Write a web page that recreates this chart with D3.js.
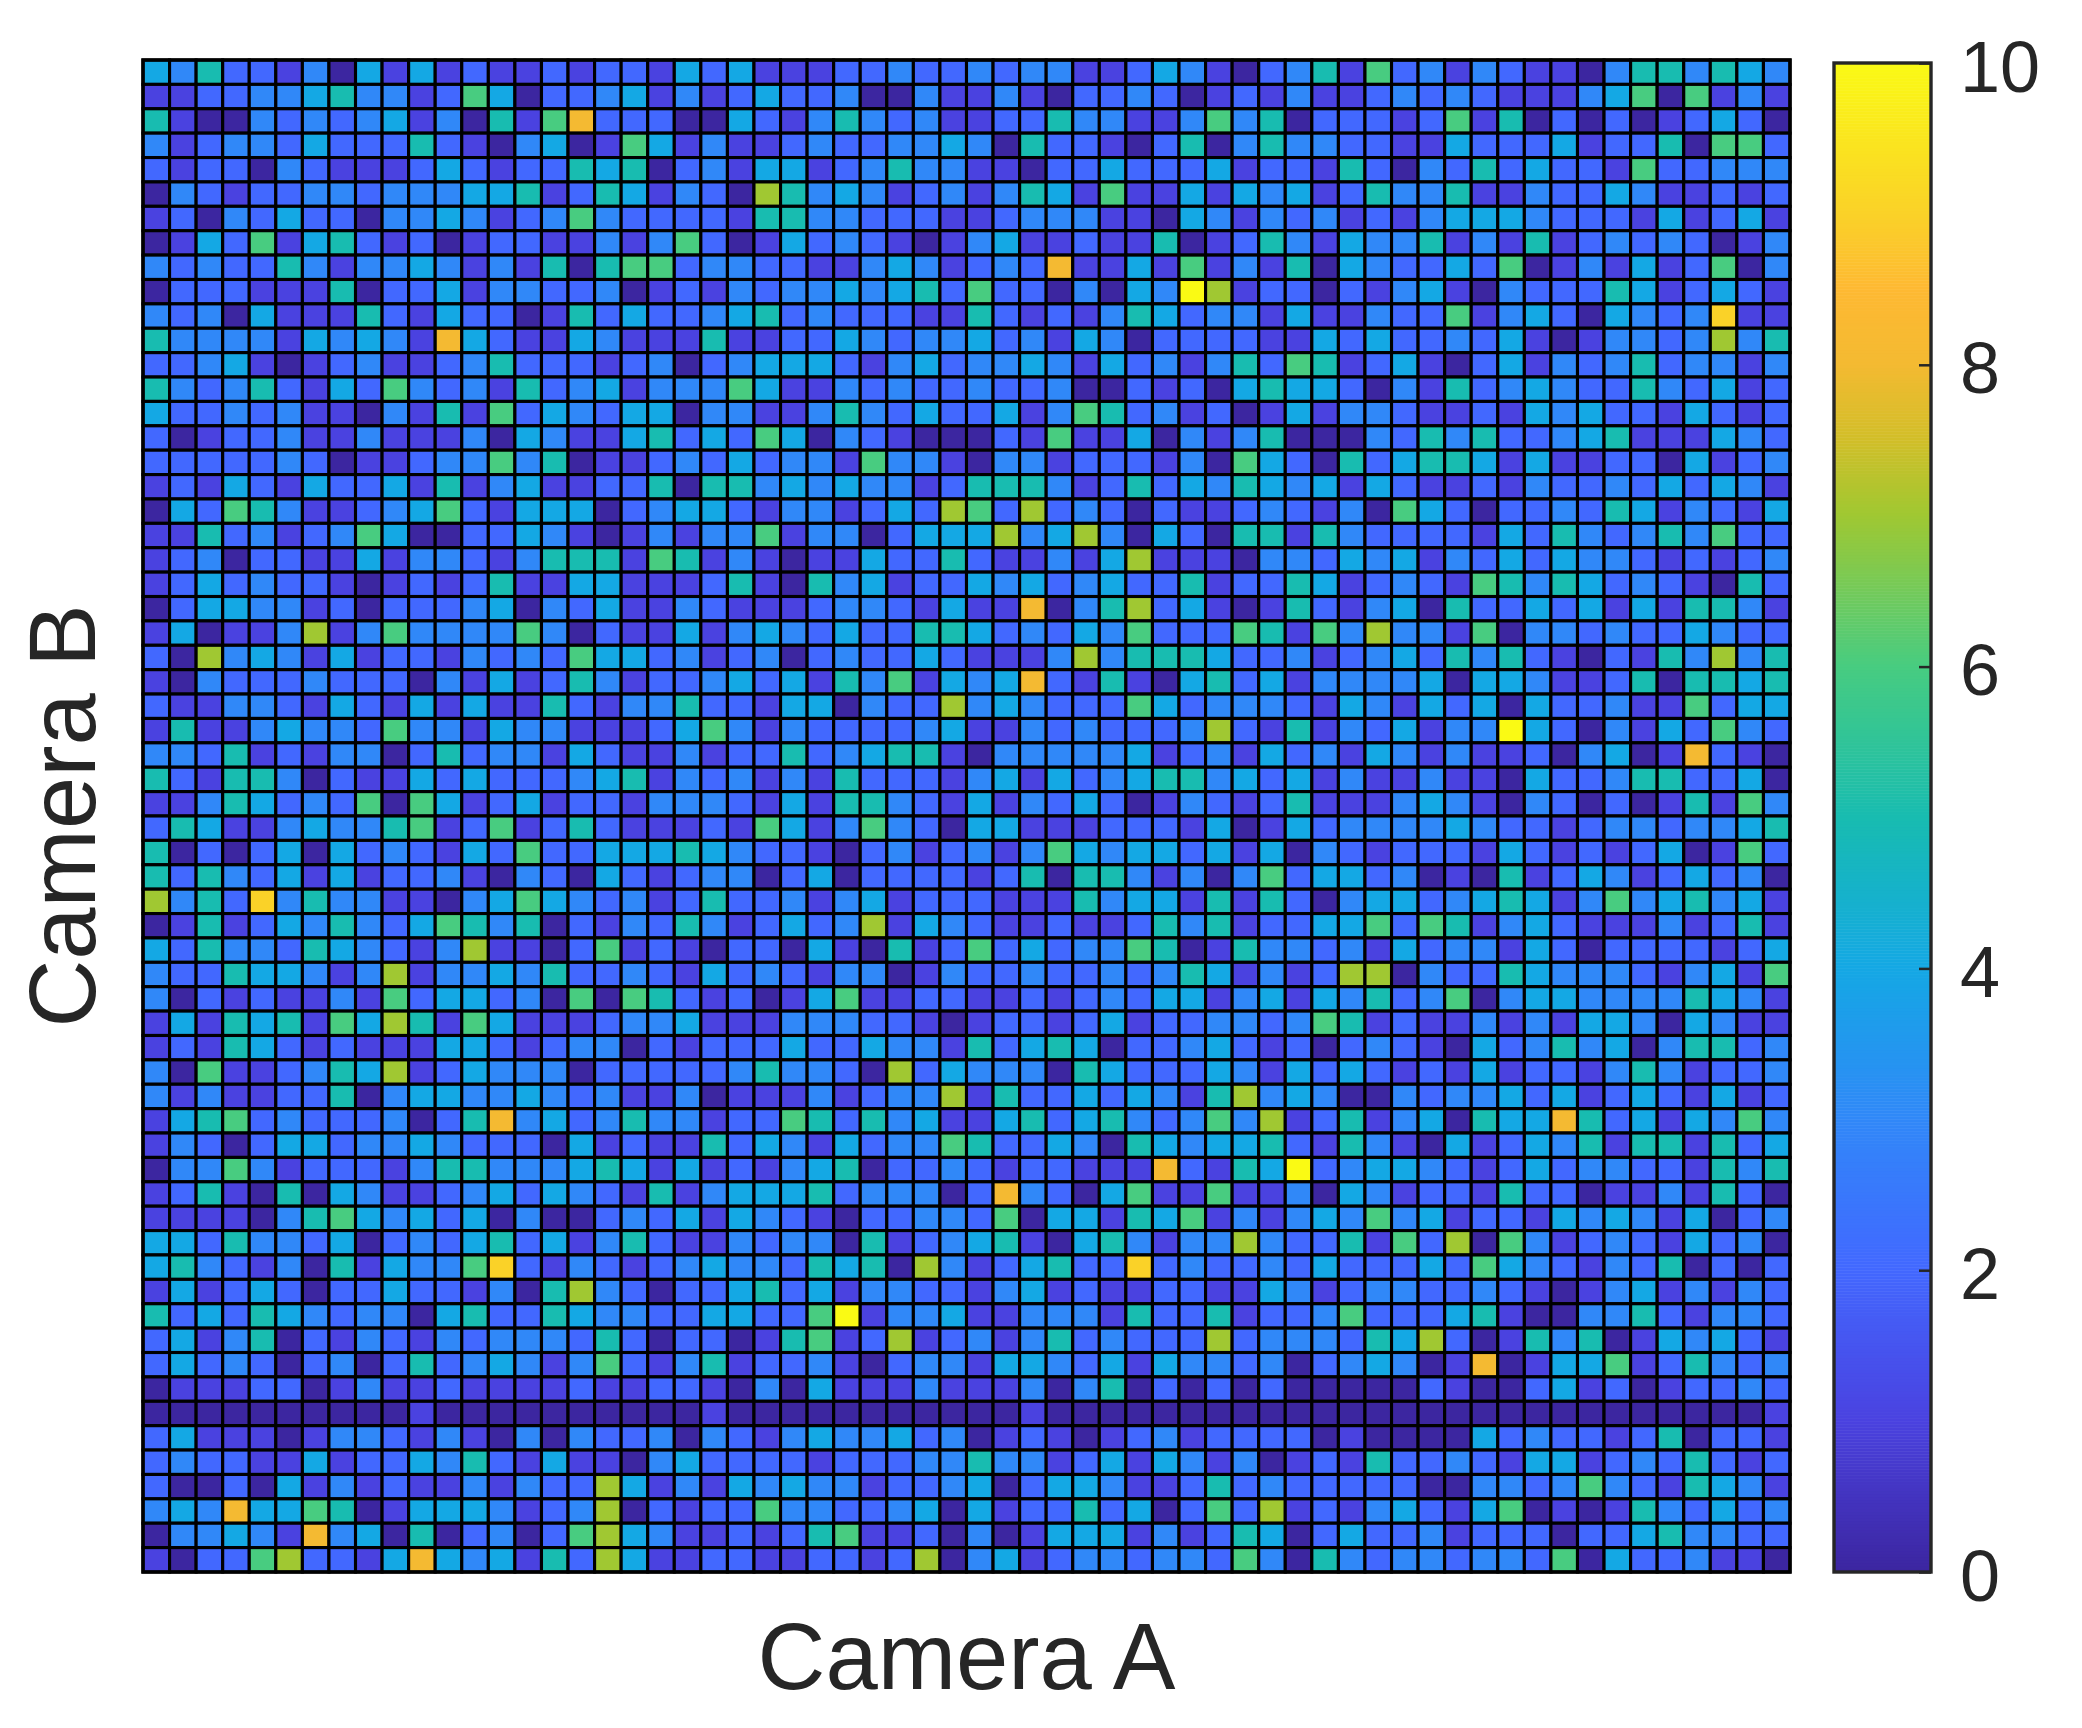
<!DOCTYPE html>
<html>
<head>
<meta charset="utf-8">
<script src="https://cdn.jsdelivr.net/npm/d3@7"></script>
<style>html,body{margin:0;padding:0;background:#fff}svg{display:block}</style>
</head>
<body>
<svg id="chart" width="2082" height="1728"></svg>
<script>
const xLabel = "Camera A";
const yLabel = "Camera B";
const colorbarTicks = [0, 2, 4, 6, 8, 10];
const colorDomain = [0, 10];
const colorStops = [0, 1, 2, 3, 4, 5, 6, 7, 7.5, 8, 8.5, 9, 10];
const colorValues = ["#3c26a0", "#4a42e0", "#4268ff", "#3088f8", "#14a8e4", "#18bcb0", "#48cc80", "#a0c832", "#d2be28", "#f4ba32", "#feb932", "#fad228", "#fafa14"];

const row00 = [4,3,5,2,2,1,3,0,4,1,4,1,2,1,1,2,1,2,2,1,4,2, 4,1,1,1,2,2,3,2,2,3,2,3,3,1,1,2,4,3,1,0,2, 3,5,1,6,2,3,1,3,2,1,1,0,3,5,5,3,5,4,3];
const row01 = [1,1,2,2,3,3,4,5,3,3,1,2,6,4,0,2,2,3,4,1,3,1, 2,4,2,2,3,0,0,3,1,1,3,1,0,2,2,3,2,0,1,2,1, 3,1,1,2,3,2,3,2,1,1,1,3,4,6,0,6,1,3,1];
const row02 = [5,1,0,0,3,2,3,2,3,4,1,3,0,5,1,6,8,2,2,2,0,0, 4,2,1,3,5,3,2,3,1,1,2,2,5,3,3,1,1,3,6,3,5, 0,2,2,2,1,2,6,1,5,0,2,0,2,0,1,2,4,2,0];
const row03 = [3,1,2,3,3,2,4,2,2,2,5,2,1,0,3,4,0,1,6,4,1,3, 1,1,2,3,2,2,3,3,4,3,0,5,2,2,1,0,2,5,0,3,5, 3,3,2,2,1,1,4,2,2,2,4,1,2,2,5,0,6,6,2];
const row04 = [2,1,2,2,0,3,2,1,1,1,2,4,2,1,2,2,5,4,5,0,2,3, 1,4,4,1,2,3,5,3,3,1,1,0,2,2,4,2,2,2,4,1,2, 2,1,5,2,0,3,2,5,2,4,2,2,1,6,2,2,3,3,3];
const row05 = [0,3,2,1,2,2,3,3,2,3,3,3,4,4,5,1,2,5,4,1,3,2, 0,7,5,3,4,3,1,2,3,1,3,5,4,1,6,1,1,4,1,4,3, 4,1,2,5,3,3,5,1,1,3,2,2,4,3,1,1,2,1,2];
const row06 = [1,2,0,3,2,4,2,2,0,3,3,4,3,1,2,3,6,3,2,2,2,2, 1,5,5,3,3,2,2,2,1,1,2,3,3,3,1,1,0,4,3,1,3, 2,3,1,2,1,3,4,4,4,3,2,2,2,1,4,1,2,4,1];
const row07 = [0,1,4,2,6,1,4,5,2,1,2,0,1,2,2,1,1,3,1,3,6,2, 0,1,4,2,3,2,1,0,1,3,4,1,1,2,1,1,5,0,1,2,5, 3,1,4,3,3,5,1,3,1,5,1,2,3,2,3,2,0,1,3];
const row08 = [3,2,3,2,2,5,3,1,3,3,4,3,1,3,1,5,0,5,6,6,2,3, 3,2,2,1,1,3,4,3,1,2,3,2,8,1,1,4,1,6,1,3,1, 5,0,4,3,2,2,4,2,6,0,1,3,1,4,1,2,6,0,3];
const row09 = [0,2,2,2,1,1,1,5,0,2,2,4,1,3,3,2,2,3,0,1,2,1, 3,2,3,3,4,3,4,5,2,6,2,2,0,3,0,4,3,10,7,1,2, 2,0,2,1,3,4,1,0,3,2,2,2,5,4,1,2,4,2,1];
const row10 = [3,2,3,0,4,1,1,1,5,2,1,4,2,2,0,1,5,2,4,2,2,3, 4,5,2,3,2,2,2,1,1,5,2,1,2,1,3,5,4,2,3,3,1, 4,1,1,3,2,2,6,1,3,4,2,0,4,3,2,3,9,1,1];
const row11 = [5,3,3,3,3,1,4,3,4,3,1,8,4,2,1,1,4,3,1,1,1,5, 1,1,2,2,4,3,2,3,3,4,2,3,1,4,3,0,2,2,2,2,1, 1,4,2,4,2,2,3,2,4,1,0,1,3,3,2,3,7,3,5];
const row12 = [2,2,3,4,1,0,1,2,3,1,1,2,3,5,2,2,2,1,2,3,0,2, 3,4,4,4,2,1,3,4,2,3,3,4,3,1,4,2,3,1,3,5,2, 6,5,1,2,4,1,0,2,4,1,3,2,3,5,2,3,3,1,3];
const row13 = [5,3,2,3,5,2,1,4,2,6,3,2,3,1,5,2,3,4,1,3,3,3, 6,4,1,1,3,2,3,2,2,3,2,2,3,0,0,2,1,2,0,4,5, 4,4,2,0,3,1,5,2,3,4,3,2,2,5,3,2,4,1,2];
const row14 = [4,2,2,3,2,3,1,1,0,3,1,5,1,6,2,4,3,2,4,4,0,3, 3,1,1,3,5,3,2,4,2,2,4,1,3,6,5,2,3,1,2,0,1, 4,1,3,3,2,1,1,2,1,4,3,4,2,2,1,4,2,1,2];
const row15 = [2,0,1,2,2,3,1,1,3,1,1,1,3,0,4,3,1,1,4,5,2,4, 2,6,4,0,3,2,1,0,0,0,2,1,6,1,1,4,0,3,1,3,5, 0,0,0,3,2,5,3,5,2,2,3,4,5,1,1,1,4,3,2];
const row16 = [2,2,2,2,2,3,2,0,1,1,2,3,3,6,3,5,0,1,1,2,3,2, 4,2,3,3,1,6,3,3,1,0,3,3,1,2,2,2,1,3,0,6,4, 2,0,5,2,4,5,5,4,1,4,1,1,2,2,0,4,1,2,3];
const row17 = [1,2,1,4,2,1,4,2,2,4,1,5,1,3,4,1,1,2,2,5,0,5, 5,3,4,3,4,3,3,1,2,5,5,5,3,1,2,5,2,4,3,5,4, 3,4,1,4,2,1,1,2,1,3,2,2,3,2,4,2,4,3,1];
const row18 = [0,4,2,6,5,3,1,1,2,3,4,6,2,1,4,4,4,0,2,3,4,4, 2,1,3,3,1,2,4,2,7,6,2,7,2,3,2,0,2,1,1,2,3, 2,1,3,0,6,4,2,0,2,2,3,2,5,4,1,3,2,1,4];
const row19 = [1,1,5,2,3,1,2,3,6,4,0,0,2,2,4,3,1,0,1,3,1,3, 3,6,1,3,3,0,2,4,4,4,7,3,4,7,3,0,4,2,0,5,5, 1,5,3,2,2,2,2,1,4,2,5,3,2,3,5,3,6,2,2];
const row20 = [1,2,3,0,2,2,1,1,4,1,3,3,2,1,3,5,5,5,1,6,5,1, 3,1,0,1,1,4,2,2,5,2,1,1,3,1,4,7,1,1,1,0,3, 3,2,4,3,4,1,3,2,4,2,4,3,3,2,1,2,1,2,3];
const row21 = [1,2,4,2,3,2,2,1,0,1,2,1,2,5,1,1,4,4,1,1,1,2, 5,1,0,5,3,4,1,2,2,4,3,4,2,3,4,2,2,5,1,2,2, 5,4,1,2,3,2,1,6,5,3,5,4,2,3,2,1,0,5,2];
const row22 = [0,2,4,4,3,3,1,2,0,2,2,2,3,4,0,3,2,4,1,1,3,2, 1,1,1,2,3,3,2,1,4,1,1,8,0,3,5,7,2,4,1,0,1, 5,2,1,3,4,0,5,2,2,4,2,4,1,4,1,5,5,3,1];
const row23 = [1,4,0,1,1,3,7,1,3,6,3,3,3,3,6,3,0,2,1,1,4,1, 3,4,3,2,4,2,2,5,5,4,2,3,2,4,3,6,2,2,2,6,5, 1,6,3,7,3,3,1,6,0,3,3,2,3,2,2,4,3,2,2];
const row24 = [2,0,7,3,4,3,1,4,1,2,2,1,3,2,3,2,6,4,4,2,3,1, 2,3,0,2,3,2,2,4,2,1,1,1,3,7,3,5,5,5,4,2,2, 3,1,2,3,4,2,5,3,5,2,1,0,2,1,5,3,7,3,5];
const row25 = [1,0,3,2,2,2,3,2,2,2,0,3,1,4,1,2,5,3,1,2,2,3, 4,2,4,1,5,3,6,1,4,3,4,8,2,1,5,1,0,4,5,2,4, 1,3,3,3,3,4,0,4,4,3,1,1,2,5,0,5,5,4,5];
const row26 = [2,1,1,3,3,2,1,4,2,1,4,1,4,1,1,5,2,1,3,3,5,2, 2,1,4,4,0,3,2,2,7,3,4,3,2,2,2,6,4,2,3,3,3, 2,1,4,3,1,4,2,4,0,4,2,2,3,1,1,6,2,4,4];
const row27 = [1,5,1,1,3,4,3,3,2,6,3,3,1,4,3,3,1,1,1,2,4,6, 3,1,3,2,2,2,2,3,4,1,1,3,2,3,2,2,2,3,7,2,1, 5,1,3,2,4,1,3,3,10,4,2,0,3,1,4,2,6,3,2];
const row28 = [3,3,2,5,1,2,1,3,3,0,2,5,2,3,3,1,4,2,1,1,3,1, 2,2,5,2,3,4,5,5,1,0,3,3,3,3,3,4,1,2,3,1,4, 2,3,1,4,3,1,3,1,1,2,0,3,4,0,1,8,2,1,0];
const row29 = [5,2,1,5,5,3,0,2,1,1,4,2,4,2,2,2,3,4,5,1,3,2, 3,1,3,1,5,2,2,2,1,3,4,1,4,2,3,4,5,5,3,4,2, 4,1,3,1,1,3,1,1,0,4,2,2,3,5,5,2,2,4,0];
const row30 = [1,1,3,5,4,2,3,2,6,0,6,4,1,2,4,1,2,2,1,3,3,3, 2,1,4,1,5,5,3,2,1,4,1,3,2,4,2,0,1,3,2,1,2, 5,1,1,1,3,4,3,1,0,3,2,0,2,0,1,5,1,6,3];
const row31 = [2,5,4,1,1,3,4,3,3,5,6,1,2,6,1,2,5,2,1,1,1,2, 1,6,4,1,3,6,3,2,0,4,4,1,1,1,2,2,2,1,4,0,1, 4,2,3,3,3,3,4,3,2,2,1,2,3,3,2,3,3,4,5];
const row32 = [5,0,2,0,2,4,0,4,2,3,2,1,4,2,6,2,2,4,4,4,5,4, 3,2,2,1,0,2,3,1,2,3,1,3,6,4,3,4,4,2,4,1,4, 0,3,2,1,2,2,2,1,4,2,1,2,1,2,4,0,1,6,2];
const row33 = [5,2,5,3,2,4,1,4,1,2,2,3,1,0,3,2,0,4,2,1,2,3, 3,0,2,4,0,2,2,2,2,1,2,5,0,5,5,3,1,3,0,3,6, 2,4,4,2,3,0,1,0,5,1,2,4,3,1,2,4,2,3,0];
const row34 = [7,3,5,2,9,3,5,3,3,1,1,0,3,4,6,4,3,2,3,1,2,5, 2,2,3,1,3,4,1,2,2,2,1,1,1,5,3,4,4,1,5,1,5, 2,0,3,4,4,2,3,4,5,4,1,3,6,3,4,5,3,4,1];
const row35 = [0,1,5,1,2,4,3,5,3,2,4,6,5,3,5,0,2,1,3,2,5,3, 1,2,4,2,3,7,1,4,3,2,1,1,2,1,1,2,5,3,5,1,2, 2,4,4,6,2,6,5,1,3,4,2,1,1,1,3,1,2,5,1];
const row36 = [4,2,5,3,3,2,5,4,3,2,1,3,7,1,1,0,2,6,1,2,1,0, 2,2,0,4,1,0,5,1,2,6,2,4,2,3,3,6,5,0,1,5,3, 3,2,3,1,4,2,3,3,1,4,2,0,2,2,2,2,1,2,4];
const row37 = [3,2,2,5,4,4,3,1,3,7,1,3,3,4,3,5,2,2,3,2,1,4, 2,3,2,1,3,3,0,1,3,2,2,3,2,2,3,2,3,5,4,1,3, 1,2,7,7,0,3,2,2,5,4,3,3,3,2,1,3,4,1,6];
const row38 = [3,0,2,1,2,1,1,3,1,6,2,4,4,2,3,0,6,0,6,5,2,1, 2,0,1,4,6,1,1,2,2,1,1,2,1,2,3,2,4,4,1,3,4, 1,4,3,5,2,3,6,0,3,4,4,3,3,3,3,5,4,3,1];
const row39 = [1,4,1,5,4,5,1,6,4,7,5,1,6,4,1,1,1,2,3,3,4,1, 1,1,3,3,3,2,2,1,0,1,2,2,1,2,4,1,2,2,3,3,2, 3,6,5,1,2,1,1,3,1,3,1,4,4,3,0,4,3,1,1];
const row40 = [1,2,1,5,4,2,1,2,1,1,1,4,4,2,1,2,3,3,0,2,1,2, 2,2,4,2,2,4,3,3,1,5,2,4,5,4,0,2,2,3,4,2,1, 2,0,2,3,2,1,0,4,2,3,5,3,4,0,3,5,5,2,3];
const row41 = [3,0,6,1,1,2,3,5,4,7,1,2,4,3,3,3,0,2,2,2,2,2, 3,5,3,3,2,0,7,2,4,3,3,3,0,5,4,2,2,2,4,3,1, 4,2,4,2,1,2,1,4,1,2,2,1,3,5,3,1,2,2,3];
const row42 = [3,1,3,1,1,2,2,5,0,3,4,4,3,3,4,3,2,3,1,1,3,0, 1,1,1,3,1,2,3,3,7,1,5,2,2,4,2,4,3,1,5,7,3, 4,3,0,0,3,2,3,3,4,2,4,1,2,4,2,1,4,1,2];
const row43 = [1,4,5,6,2,3,2,2,2,3,0,2,5,8,3,4,2,3,5,3,3,1, 2,2,6,5,2,5,3,4,1,1,4,5,2,4,5,3,2,3,6,3,7, 1,2,5,1,3,4,0,5,4,4,8,5,2,4,1,4,3,6,3];
const row44 = [1,3,2,0,2,4,4,2,3,3,4,3,2,2,2,0,4,1,2,1,1,5, 2,4,3,1,4,2,3,3,6,5,2,2,4,3,0,5,4,3,4,4,5, 2,1,5,3,1,0,4,1,2,4,3,5,1,5,5,1,5,2,4];
const row45 = [0,3,3,6,3,1,2,2,2,1,3,5,5,3,3,3,4,5,4,1,4,1, 2,1,3,4,5,0,2,2,3,2,1,2,2,1,1,1,8,2,1,5,4, 10,2,3,4,4,3,2,1,2,4,2,3,3,2,2,1,5,3,5];
const row46 = [1,2,5,1,0,5,0,4,3,1,1,2,3,4,2,4,3,2,1,5,1,3, 4,4,4,5,2,3,3,3,0,2,8,3,2,0,4,6,1,1,6,1,1, 3,0,4,3,1,2,2,1,5,2,2,0,1,1,3,1,5,2,0];
const row47 = [1,1,1,1,0,3,5,6,4,3,4,2,4,0,3,0,0,2,3,2,4,1, 4,3,2,1,0,2,2,3,3,2,6,0,4,4,1,5,4,6,1,3,1, 3,4,3,6,3,4,1,2,2,1,4,3,4,3,1,4,0,2,3];
const row48 = [4,4,2,5,3,3,2,4,0,2,3,2,4,5,2,4,1,3,5,2,1,1, 3,2,3,3,0,5,1,2,3,4,5,1,0,4,5,3,1,3,3,7,3, 2,2,5,1,6,2,7,0,6,3,1,2,3,2,1,4,2,3,0];
const row49 = [4,5,3,2,1,3,0,5,1,4,3,3,6,9,2,1,3,2,1,2,3,4, 3,3,2,5,4,5,0,7,3,1,2,4,5,2,2,9,2,3,2,2,3, 2,4,2,2,2,4,2,6,4,3,2,1,3,2,5,0,2,0,2];
const row50 = [1,4,1,2,4,2,0,2,2,4,2,2,1,3,0,5,7,3,2,0,2,2, 4,5,2,4,1,3,3,2,2,1,3,4,1,2,1,1,2,2,1,1,4, 3,1,2,3,3,2,2,3,2,1,0,1,3,4,1,3,1,3,2];
const row51 = [5,2,4,2,5,4,3,2,3,3,0,4,5,2,2,5,4,3,3,2,2,4, 4,2,2,6,10,1,3,3,4,1,1,3,3,3,1,5,2,2,5,1,2, 2,3,6,2,2,2,4,5,1,0,0,3,3,5,2,1,3,3,2];
const row52 = [2,4,1,3,5,0,2,1,3,2,1,3,2,3,3,3,2,5,2,0,2,2, 0,1,5,6,1,2,7,1,2,3,1,3,5,2,3,2,2,2,7,2,3, 3,3,2,5,4,7,2,0,1,5,3,5,0,1,4,3,4,2,1];
const row53 = [2,4,2,3,2,0,2,3,0,2,5,2,3,4,3,1,3,6,2,1,3,5, 1,2,2,3,1,0,2,3,3,1,4,4,3,2,4,1,4,3,3,2,3, 0,2,3,4,3,0,1,8,0,1,4,4,6,1,2,5,3,2,3];
const row54 = [0,1,1,1,2,2,0,1,3,1,1,2,1,1,1,1,2,1,1,2,2,1, 0,3,0,4,1,1,1,3,1,1,1,3,0,3,5,0,2,0,2,0,2, 0,0,0,0,0,2,1,0,0,2,4,1,2,0,1,2,2,3,2];
const row55 = [0,0,0,0,0,0,0,0,0,0,1,0,0,0,0,0,0,0,0,0,0,1, 0,0,0,0,0,0,0,0,0,0,0,1,0,0,0,0,0,0,0,0,0, 0,0,0,0,0,0,0,0,0,0,0,0,0,0,0,0,0,0,1];
const row56 = [2,4,1,1,1,0,1,3,3,2,1,3,1,0,3,0,3,2,2,3,0,3, 2,1,3,4,3,3,4,2,3,0,1,2,1,0,1,2,3,1,2,2,2, 2,0,1,0,0,0,0,4,2,3,2,2,1,2,5,0,2,2,1];
const row57 = [2,3,2,2,1,1,4,1,2,2,4,3,5,2,1,4,1,1,0,3,4,2, 2,2,2,1,2,2,2,3,3,5,3,3,1,2,4,1,4,3,1,3,0, 1,2,1,5,2,2,3,2,1,4,4,1,2,3,2,5,2,1,2];
const row58 = [2,0,0,2,0,4,1,3,1,2,1,1,3,1,3,2,2,7,4,1,3,1, 4,3,4,3,3,1,2,2,3,4,0,2,4,4,3,1,1,2,5,2,3, 2,2,2,2,2,0,0,3,3,2,3,6,3,2,1,5,4,3,1];
const row59 = [3,4,3,8,4,4,6,5,0,1,4,4,4,3,1,2,3,7,0,2,1,2, 2,6,3,3,2,2,3,4,0,4,1,2,2,5,2,4,0,2,6,2,7, 1,2,1,3,4,2,1,4,6,0,1,0,1,5,3,2,4,2,3];
const row60 = [0,3,3,4,3,1,8,3,4,0,5,0,2,3,0,2,6,7,4,3,1,1, 2,1,2,5,6,1,1,2,0,3,0,1,4,4,4,1,3,1,2,5,4, 0,2,4,2,2,3,1,2,2,2,0,2,2,4,5,3,3,2,2];
const row61 = [1,0,2,2,6,7,2,2,1,4,8,4,3,4,1,5,2,7,4,1,1,2, 2,1,1,2,2,1,2,7,0,3,4,1,2,3,3,2,3,3,2,6,3, 0,5,3,2,3,3,2,3,3,2,6,0,4,2,2,3,1,1,0];

const rows = [row00,row01,row02,row03,row04,row05,row06,row07,row08,row09,
  row10,row11,row12,row13,row14,row15,row16,row17,row18,row19,
  row20,row21,row22,row23,row24,row25,row26,row27,row28,row29,
  row30,row31,row32,row33,row34,row35,row36,row37,row38,row39,
  row40,row41,row42,row43,row44,row45,row46,row47,row48,row49,
  row50,row51,row52,row53,row54,row55,row56,row57,row58,row59,
  row60,row61];

const plot = {left: 143, right: 1790, top: 60, bottom: 1572};
const bar = {left: 1834, right: 1931, top: 63, bottom: 1572};
const ink = "#262626";
const font = "'Liberation Sans', Arial, sans-serif";

const svg = d3.select("#chart");
svg.append("rect").attr("width", 2082).attr("height", 1728).attr("fill", "#fff");

const x = d3.scaleBand().domain(d3.range(rows[0].length)).range([plot.left, plot.right]);
const y = d3.scaleBand().domain(d3.range(rows.length)).range([plot.top, plot.bottom]);
const color = d3.scaleLinear().domain(colorStops).range(colorValues).interpolate(d3.interpolateRgb).clamp(true);

const cells = rows.flatMap((r, j) => r.map((v, i) => ({i, j, v})));
svg.append("g").selectAll("rect").data(cells).join("rect")
  .attr("x", d => x(d.i))
  .attr("y", d => y(d.j))
  .attr("width", x.bandwidth())
  .attr("height", y.bandwidth())
  .attr("fill", d => color(d.v))
  .attr("stroke", "#000")
  .attr("stroke-width", 3.1);

svg.append("rect")
  .attr("x", plot.left).attr("y", plot.top)
  .attr("width", plot.right - plot.left).attr("height", plot.bottom - plot.top)
  .attr("fill", "none").attr("stroke", "#000").attr("stroke-width", 3.4);

svg.append("text")
  .attr("x", (plot.left + plot.right) / 2).attr("y", 1689)
  .attr("text-anchor", "middle")
  .attr("font-family", font).attr("font-size", 94).attr("fill", ink)
  .text(xLabel);

svg.append("text")
  .attr("transform", `translate(95,${(plot.top + plot.bottom) / 2}) rotate(-90)`)
  .attr("text-anchor", "middle")
  .attr("font-family", font).attr("font-size", 94).attr("fill", ink)
  .text(yLabel);

const barScale = d3.scaleLinear().domain(colorDomain).range([bar.bottom, bar.top]);
const barSteps = d3.range(colorDomain[0], colorDomain[1], 0.02);
svg.append("g").selectAll("rect").data(barSteps).join("rect")
  .attr("x", bar.left)
  .attr("width", bar.right - bar.left)
  .attr("y", d => barScale(d + 0.02))
  .attr("height", d => barScale(d) - barScale(d + 0.02) + 0.5)
  .attr("fill", d => color(d));

svg.append("rect")
  .attr("x", bar.left).attr("y", bar.top)
  .attr("width", bar.right - bar.left).attr("height", bar.bottom - bar.top)
  .attr("fill", "none").attr("stroke", ink).attr("stroke-width", 3.4);

const axis = d3.axisRight(barScale).tickValues(colorbarTicks).tickSize(-12).tickPadding(29).tickFormat(d3.format("d"));
const gAxis = svg.append("g").attr("transform", `translate(${bar.right},0)`).call(axis);
gAxis.select(".domain").remove();
gAxis.selectAll(".tick line").attr("stroke", ink).attr("stroke-width", 2.5);
gAxis.selectAll(".tick text")
  .attr("font-family", font).attr("font-size", 72).attr("fill", ink)
  .attr("text-anchor", "start").attr("dy", null).attr("y", 28);
</script>
</body>
</html>
